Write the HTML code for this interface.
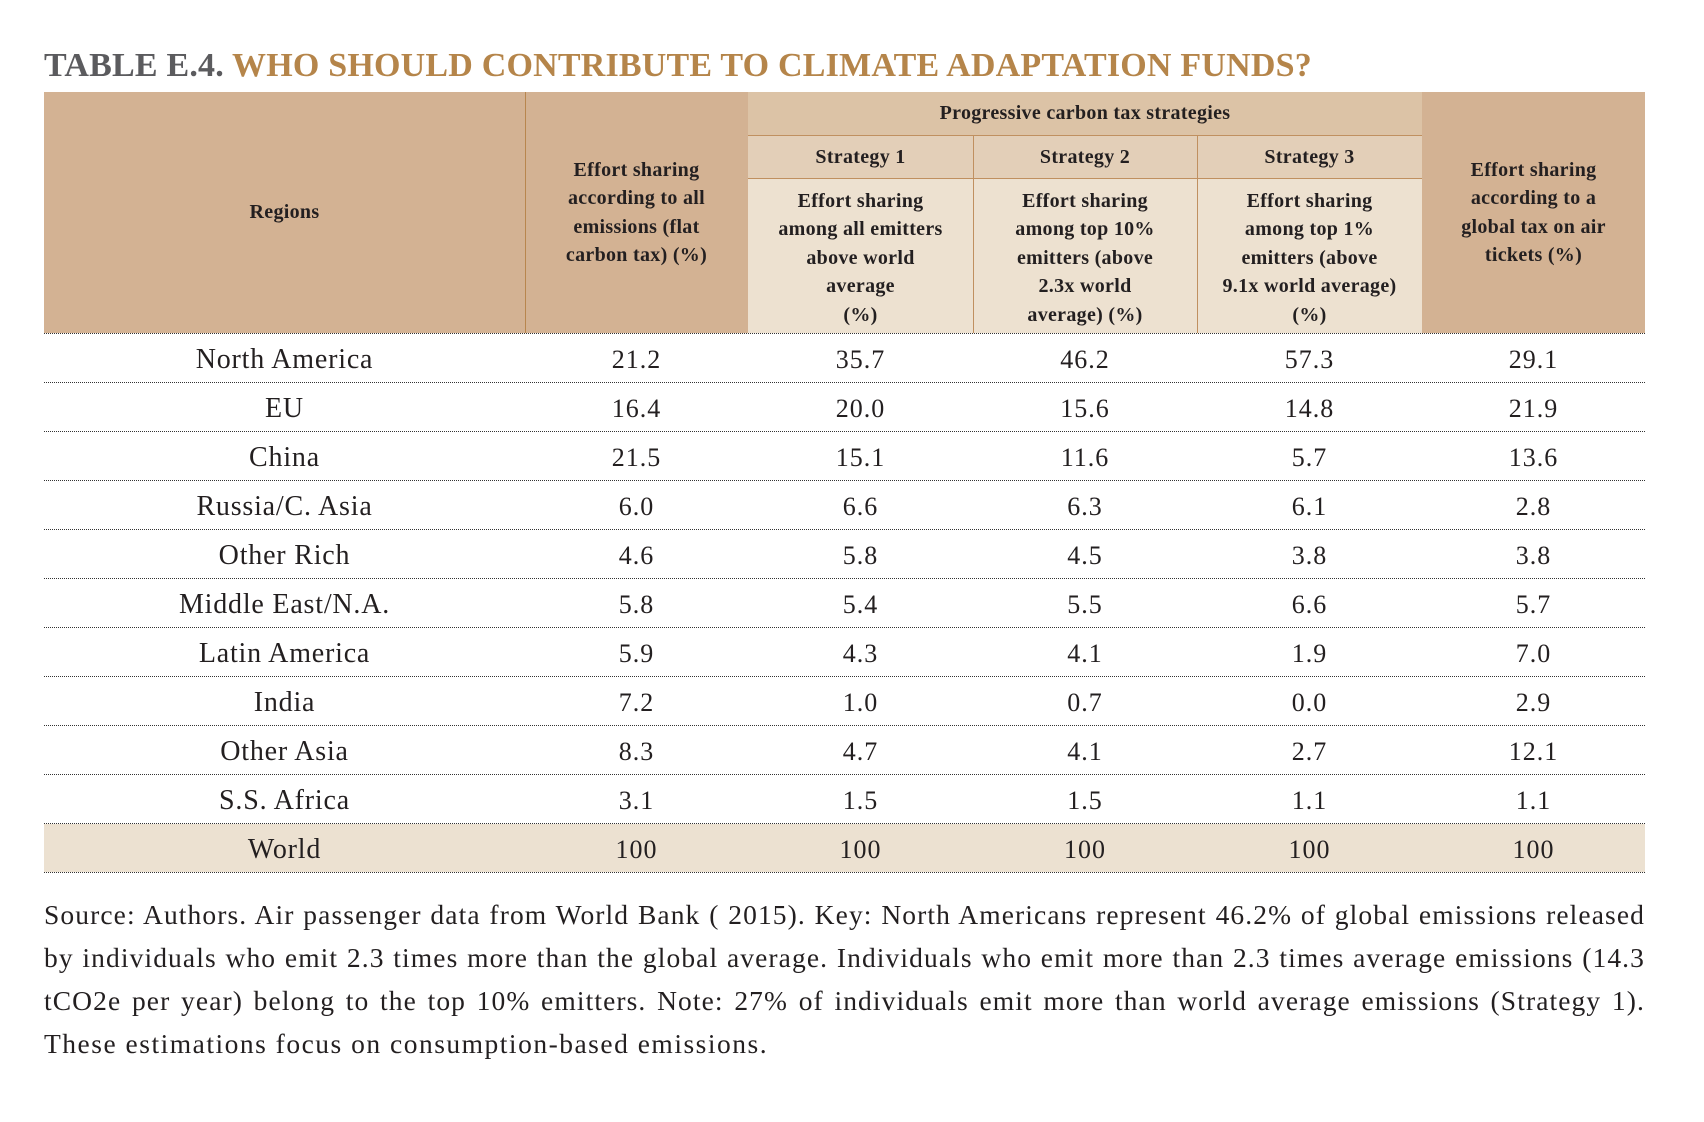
<!DOCTYPE html>
<html><head><meta charset="utf-8">
<style>
*{margin:0;padding:0;box-sizing:border-box}
body{width:1704px;height:1122px;background:#fff;position:relative;font-family:"Liberation Serif",serif;color:#231f20;overflow:hidden}
.abs{position:absolute}
.title{left:44px;top:47px;font-size:34px;font-weight:bold;white-space:nowrap;letter-spacing:0.2px}
.hc{position:absolute;display:flex;align-items:center;justify-content:center;text-align:center;font-weight:bold;font-size:20px;letter-spacing:0.3px;line-height:28.5px}
.cell{position:absolute;display:flex;align-items:center;justify-content:center}
.dot{position:absolute;left:44px;width:1601px;border-top:1.5px dotted #333;height:0}
.src{position:absolute;left:44px;width:1601px;font-size:27.5px;letter-spacing:1.1px;white-space:nowrap;text-align:justify;text-align-last:justify}
</style></head><body>
<div class="abs title"><span style="color:#5b5b5e">TABLE E.4. </span><span style="color:#b5854a">WHO SHOULD CONTRIBUTE TO CLIMATE ADAPTATION FUNDS?</span></div>

<div class="abs" style="left:44px;top:92px;width:704px;height:241px;background:#d3b293"></div>
<div class="abs" style="left:748px;top:92px;width:674px;height:43px;background:#dcc3a6"></div>
<div class="abs" style="left:748px;top:135px;width:674px;height:44px;background:#e3cfb8;border-top:1.5px solid #c09060;border-bottom:1.5px solid #c09060"></div>
<div class="abs" style="left:748px;top:179px;width:674px;height:154px;background:#ede1d0"></div>
<div class="abs" style="left:1422px;top:92px;width:223px;height:241px;background:#d3b293"></div>
<div class="abs" style="left:525px;top:92px;width:1px;height:241px;background:#b8864e"></div>
<div class="abs" style="left:973px;top:135px;width:1px;height:198px;background:#c09060"></div>
<div class="abs" style="left:1197px;top:135px;width:1px;height:198px;background:#c09060"></div>

<div class="hc" style="left:44px;top:92px;width:481px;height:241px">Regions</div>
<div class="hc" style="left:525px;top:92px;width:223px;height:241px">Effort sharing<br>according to all<br>emissions (flat<br>carbon tax) (%)</div>
<div class="hc" style="left:748px;top:92px;width:674px;height:43px">Progressive carbon tax strategies</div>
<div class="hc" style="left:748px;top:135px;width:225px;height:44px">Strategy 1</div>
<div class="hc" style="left:973px;top:135px;width:224px;height:44px">Strategy 2</div>
<div class="hc" style="left:1197px;top:135px;width:225px;height:44px">Strategy 3</div>
<div class="hc" style="left:748px;top:183px;width:225px;height:150px">Effort sharing<br>among all emitters<br>above world<br>average<br>(%)</div>
<div class="hc" style="left:973px;top:183px;width:224px;height:150px">Effort sharing<br>among top 10%<br>emitters (above<br>2.3x world<br>average) (%)</div>
<div class="hc" style="left:1197px;top:183px;width:225px;height:150px">Effort sharing<br>among top 1%<br>emitters (above<br>9.1x world average)<br>(%)</div>
<div class="hc" style="left:1422px;top:92px;width:223px;height:241px">Effort sharing<br>according to a<br>global tax on air<br>tickets (%)</div>

<div id="body"></div>

<div class="src" style="top:899px">Source: Authors. Air passenger data from World Bank ( 2015). Key: North Americans represent 46.2% of global emissions released</div>
<div class="src" style="top:942px">by individuals who emit 2.3 times more than the global average. Individuals who emit more than 2.3 times average emissions (14.3</div>
<div class="src" style="top:985px">tCO2e per year) belong to the top 10% emitters. Note: 27% of individuals emit more than world average emissions (Strategy 1).</div>
<div class="src" style="top:1028px;text-align-last:left;letter-spacing:1.5px">These estimations focus on consumption-based emissions.</div>

<script>
const regions=["North America","EU","China","Russia/C. Asia","Other Rich","Middle East/N.A.","Latin America","India","Other Asia","S.S. Africa","World"];
const flatTax=["21.2","16.4","21.5","6.0","4.6","5.8","5.9","7.2","8.3","3.1","100"];
const strategy1=["35.7","20.0","15.1","6.6","5.8","5.4","4.3","1.0","4.7","1.5","100"];
const strategy2=["46.2","15.6","11.6","6.3","4.5","5.5","4.1","0.7","4.1","1.5","100"];
const strategy3=["57.3","14.8","5.7","6.1","3.8","6.6","1.9","0.0","2.7","1.1","100"];
const airTax=["29.1","21.9","13.6","2.8","3.8","5.7","7.0","2.9","12.1","1.1","100"];
const body=document.getElementById('body');
const cols=[[44,481],[525,223],[748,225],[973,224],[1197,225],[1422,223]];
const top0=333,rh=49;
function add(el){body.appendChild(el);}
const d0=document.createElement('div');d0.className='dot';d0.style.top=top0+'px';


add(d0);
regions.forEach((r,i)=>{
  const y=top0+i*rh;
  if(i===regions.length-1){
    const bg=document.createElement('div');bg.className='abs';
    bg.style.cssText=`left:44px;top:${y+1}px;width:1601px;height:${rh-1}px;background:#ece1d1`;
    
    
    add(bg);
  }
  const vals=[r,flatTax[i],strategy1[i],strategy2[i],strategy3[i],airTax[i]];
  vals.forEach((v,j)=>{
    const c=document.createElement('div');c.className='cell';
    c.style.cssText=`left:${cols[j][0]}px;top:${y+2}px;width:${cols[j][1]}px;height:${rh}px;font-size:${j===0?28:26}px;letter-spacing:${j===0?0.8:1}px`;
    c.textContent=v;
    
    
    add(c);
  });
  const d=document.createElement('div');d.className='dot';d.style.top=(y+rh)+'px';
  
  
  add(d);
});
</script>
</body></html>
